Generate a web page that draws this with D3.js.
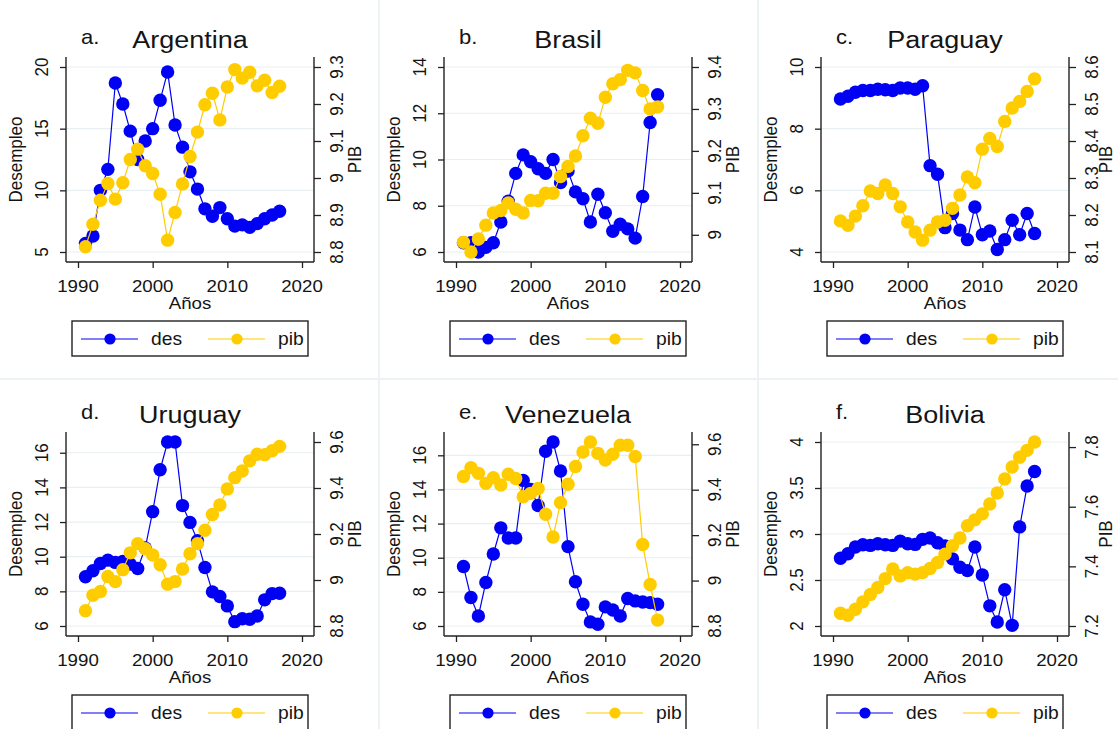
<!DOCTYPE html>
<html><head><meta charset="utf-8">
<script src="https://cdn.jsdelivr.net/npm/d3@7"></script>
<style>
body{margin:0;background:#fff}
svg{display:block}
text{font-family:"Liberation Sans",Arial,sans-serif;fill:#141414}
</style>
</head><body>
<svg id="c" width="1118" height="729"></svg>
<script>
// ---------- data ----------
const years = [1991,1992,1993,1994,1995,1996,1997,1998,1999,2000,2001,2002,2003,2004,2005,2006,2007,2008,2009,2010,2011,2012,2013,2014,2015,2016,2017];
const xTicks = [1990,2000,2010,2020];
const countries = ["Argentina","Brasil","Paraguay","Uruguay","Venezuela","Bolivia"];
const letters = ["a.","b.","c.","d.","e.","f."];
const seriesNames = ["des","pib"];

const desArgentina = [5.7,6.3,10.0,11.7,18.7,17.0,14.8,12.5,14.0,15.0,17.3,19.6,15.3,13.5,11.5,10.1,8.5,7.9,8.6,7.7,7.1,7.2,7.0,7.3,7.7,8.0,8.3];
const pibArgentina = [8.814,8.875,8.940,8.985,8.943,8.987,9.050,9.078,9.033,9.012,8.956,8.832,8.907,8.984,9.058,9.124,9.198,9.229,9.157,9.246,9.293,9.270,9.286,9.249,9.264,9.231,9.248];
const desBrasil = [6.4,6.4,6.0,6.2,6.4,7.3,8.2,9.4,10.2,9.9,9.6,9.4,10.0,9.0,9.5,8.6,8.3,7.3,8.5,7.7,6.9,7.2,7.0,6.6,8.4,11.6,12.8];
const pibBrasil = [8.982,8.959,8.990,9.023,9.052,9.058,9.076,9.061,9.052,9.082,9.081,9.099,9.099,9.139,9.163,9.188,9.236,9.278,9.266,9.328,9.360,9.370,9.392,9.386,9.344,9.300,9.305];
const desParaguay = [8.96,9.05,9.18,9.24,9.24,9.28,9.26,9.24,9.32,9.32,9.28,9.39,6.80,6.52,4.79,5.25,4.71,4.40,5.46,4.56,4.68,4.08,4.40,5.03,4.56,5.25,4.60];
const pibParaguay = [8.184,8.172,8.197,8.225,8.265,8.258,8.281,8.258,8.222,8.181,8.154,8.132,8.159,8.181,8.186,8.218,8.254,8.303,8.287,8.378,8.407,8.385,8.453,8.489,8.507,8.534,8.568];
const desUruguay = [8.84,9.19,9.61,9.80,9.67,9.73,9.57,9.32,10.50,12.60,15.02,16.62,16.62,12.95,11.98,10.92,9.38,7.97,7.70,7.16,6.25,6.42,6.39,6.58,7.51,7.87,7.89];
const pibUruguay = [8.866,8.934,8.950,9.015,8.993,9.045,9.118,9.158,9.136,9.109,9.066,8.982,8.993,9.048,9.114,9.158,9.216,9.285,9.326,9.396,9.445,9.474,9.518,9.547,9.545,9.562,9.581];
const desVenezuela = [9.49,7.67,6.59,8.55,10.22,11.75,11.16,11.16,14.53,14.0,13.06,16.24,16.78,15.08,10.65,8.59,7.27,6.24,6.10,7.12,6.94,6.59,7.61,7.47,7.41,7.37,7.27];
const pibVenezuela = [9.458,9.497,9.472,9.428,9.453,9.421,9.468,9.449,9.369,9.384,9.405,9.292,9.192,9.343,9.424,9.502,9.566,9.610,9.560,9.531,9.556,9.596,9.596,9.546,9.159,8.983,8.826];
const desBolivia = [2.737,2.785,2.858,2.883,2.876,2.894,2.883,2.876,2.923,2.894,2.887,2.942,2.956,2.905,2.869,2.730,2.639,2.602,2.858,2.555,2.219,2.044,2.394,2.007,3.077,3.522,3.679];
const pibBolivia = [7.243,7.236,7.256,7.281,7.306,7.329,7.359,7.391,7.368,7.379,7.374,7.379,7.393,7.413,7.441,7.469,7.495,7.536,7.556,7.576,7.609,7.646,7.693,7.733,7.766,7.789,7.817];

const desTicksArgentina = [5,10,15,20],        pibTicksArgentina = [8.8,8.9,9,9.1,9.2,9.3];
const desTicksBrasil = [6,8,10,12,14],         pibTicksBrasil = [9,9.1,9.2,9.3,9.4];
const desTicksParaguay = [4,6,8,10],           pibTicksParaguay = [8.1,8.2,8.3,8.4,8.5,8.6];
const desTicksUruguay = [6,8,10,12,14,16],     pibTicksUruguay = [8.8,9,9.2,9.4,9.6];
const desTicksVenezuela = [6,8,10,12,14,16],   pibTicksVenezuela = [8.8,9,9.2,9.4,9.6];
const desTicksBolivia = [2,2.5,3,3.5,4],       pibTicksBolivia = [7.2,7.4,7.6,7.8];

const panels = [
  {des: desArgentina, pib: pibArgentina, lt: desTicksArgentina, rt: pibTicksArgentina},
  {des: desBrasil, pib: pibBrasil, lt: desTicksBrasil, rt: pibTicksBrasil},
  {des: desParaguay, pib: pibParaguay, lt: desTicksParaguay, rt: pibTicksParaguay},
  {des: desUruguay, pib: pibUruguay, lt: desTicksUruguay, rt: pibTicksUruguay},
  {des: desVenezuela, pib: pibVenezuela, lt: desTicksVenezuela, rt: pibTicksVenezuela},
  {des: desBolivia, pib: pibBolivia, lt: desTicksBolivia, rt: pibTicksBolivia}
];

// ---------- layout / style ----------
const colLeft = [66, 444, 821];
const plotW = 248;
const rowTop = [57, 432];
const rowBottom = [262, 636];
const BLUE = "#0000f5", GOLD = "#ffcc00";
const AXIS = "#222";
const SX = 1.1;   // horizontal stretch of the original's text

const svg = d3.select("#c");
svg.append("rect").attr("width",1118).attr("height",729).attr("fill","#fff");

// faint separators between sub-graphs
[[379,0,379,729],[758,0,758,729],[0,379,1118,379]].forEach(l=>{
  svg.append("line").attr("x1",l[0]).attr("y1",l[1]).attr("x2",l[2]).attr("y2",l[3])
    .attr("stroke","#edf2f4").attr("stroke-width",2);
});

function label(g, x, y, s, opt = {}) {
  return g.append("text")
    .attr("transform", `translate(${x},${y}) scale(${opt.sx ?? SX},1)` + (opt.rot ? ` rotate(${opt.rot})` : ""))
    .attr("text-anchor", opt.anchor || "start")
    .style("font-size", (opt.size || 17) + "px")
    .text(s);
}

panels.forEach((p, i) => {
  const col = i % 3, row = Math.floor(i / 3);
  const L = colLeft[col], R = L + plotW, T = rowTop[row], B = rowBottom[row];
  const g = svg.append("g");
  const x = d3.scaleLinear().domain([1990, 2020]).range([L + 12, R - 12]);
  const yL = d3.scaleLinear().domain(d3.extent(p.des.concat(p.lt))).range([B - 10, T + 10]);
  const yR = d3.scaleLinear().domain(d3.extent(p.pib.concat(p.rt))).range([B - 10, T + 10]);

  // gridlines
  g.selectAll(null).data(p.lt).join("line")
    .attr("x1", L).attr("x2", R).attr("y1", d => yL(d)).attr("y2", d => yL(d))
    .attr("stroke", "#e7eff2").attr("stroke-width", 1.2);

  // axes (ticks through d3 axes)
  const axL = g.append("g").attr("transform", `translate(${L},0)`)
    .call(d3.axisLeft(yL).tickValues(p.lt).tickSize(6).tickSizeOuter(0).tickFormat(() => ""));
  const axR = g.append("g").attr("transform", `translate(${R},0)`)
    .call(d3.axisRight(yR).tickValues(p.rt).tickSize(7).tickSizeOuter(0).tickFormat(() => ""));
  const axB = g.append("g").attr("transform", `translate(0,${B})`)
    .call(d3.axisBottom(x).tickValues(xTicks).tickSize(6).tickSizeOuter(0).tickFormat(() => ""));
  [axL, axR, axB].forEach(a => {
    a.select(".domain").remove();
    a.selectAll(".tick line").attr("stroke", AXIS).attr("stroke-width", 1.3);
  });
  g.append("line").attr("x1", L).attr("x2", L).attr("y1", T).attr("y2", B).attr("stroke", AXIS).attr("stroke-width", 1.4);
  g.append("line").attr("x1", R).attr("x2", R).attr("y1", T).attr("y2", B).attr("stroke", AXIS).attr("stroke-width", 1.4);
  g.append("line").attr("x1", L).attr("x2", R).attr("y1", B).attr("y2", B).attr("stroke", AXIS).attr("stroke-width", 1.4);

  // tick labels
  p.lt.forEach(v => label(g, L - 18, yL(v), String(v), {rot: -90, anchor: "middle"}));
  p.rt.forEach(v => label(g, R + 29, yR(v), String(v), {rot: -90, anchor: "middle"}));
  xTicks.forEach(v => label(g, x(v), B + 30, String(v), {anchor: "middle"}));

  // axis titles
  label(g, (L + R) / 2, B + 47, "Años", {anchor: "middle"});
  label(g, L - 44, (T + B) / 2, "Desempleo", {rot: -90, anchor: "middle"});
  label(g, Math.min(R + 47, 1112), (T + B) / 2, "PIB", {rot: -90, anchor: "middle"});

  // titles
  label(g, L + 15, T - 13, letters[i], {size: 20});
  label(g, (L + R) / 2, T - 9, countries[i], {size: 24.5, anchor: "middle"});

  // series
  const draw = (vals, yS, color) => {
    const pts = years.map((yr, k) => [yr, vals[k]]);
    g.append("path").datum(pts)
      .attr("d", d3.line().x(d => x(d[0])).y(d => yS(d[1])))
      .attr("fill", "none").attr("stroke", color).attr("stroke-width", 1.2);
    g.selectAll(null).data(pts).join("circle")
      .attr("cx", d => x(d[0])).attr("cy", d => yS(d[1])).attr("r", 6.7)
      .attr("fill", color);
  };
  draw(p.des, yL, BLUE);
  draw(p.pib, yR, GOLD);

  // legend
  const lx = (L + R) / 2 - 118, ly = B + 59;
  g.append("rect").attr("x", lx).attr("y", ly).attr("width", 236).attr("height", 35)
    .attr("fill", "#fff").attr("stroke", "#222").attr("stroke-width", 1.4);
  [[BLUE, 9, seriesNames[0]], [GOLD, 136, seriesNames[1]]].forEach(([c, off, name]) => {
    g.append("line").attr("x1", lx + off).attr("x2", lx + off + 57).attr("y1", ly + 18).attr("y2", ly + 18)
      .attr("stroke", c).attr("stroke-width", 1.2);
    g.append("circle").attr("cx", lx + off + 29).attr("cy", ly + 18).attr("r", 5.6).attr("fill", c);
    label(g, lx + off + 70, ly + 24, name, {size: 17.5});
  });
});
</script>
</body></html>
